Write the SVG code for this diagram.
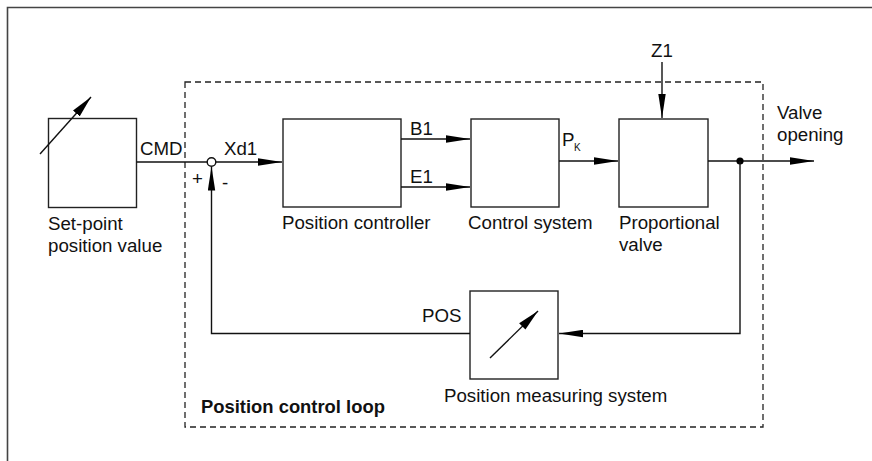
<svg xmlns="http://www.w3.org/2000/svg" width="872" height="461" viewBox="0 0 872 461">
<defs>
<style>
.box{fill:#fff;stroke:#222;stroke-width:1.4}
.ln{fill:none;stroke:#111;stroke-width:1.4}
.t{font-family:"Liberation Sans",Arial,sans-serif;font-size:18.7px;fill:#111}
.b{font-weight:bold;font-size:18.4px}
</style>
<marker id="ah" markerUnits="userSpaceOnUse" markerWidth="24" markerHeight="8" refX="24" refY="4" orient="auto">
<path d="M0,0.3 L24,4 L0,7.7 z" fill="#000"/>
</marker>
<marker id="ahs" markerUnits="userSpaceOnUse" markerWidth="22" markerHeight="10" refX="22" refY="5" orient="auto">
<path d="M0,0.5 L22,5 L0,9.5 z" fill="#000"/>
</marker>
</defs>
<rect width="872" height="461" fill="#fff"/>
<path d="M7.5,461 V7.5 H872" fill="none" stroke="#444" stroke-width="1.6"/>
<rect x="185" y="82" width="578" height="345" fill="none" stroke="#222" stroke-width="1.3" stroke-dasharray="6,4"/>
<text class="t b" x="201" y="413">Position control loop</text>

<g id="setpoint">
<rect class="box" x="48.5" y="118.5" width="88" height="89"/>
<line class="ln" x1="40" y1="154" x2="91" y2="97" marker-end="url(#ahs)"/>
<text class="t" x="48" y="230">Set-point</text>
<text class="t" x="48" y="252">position value</text>
</g>

<g id="sum">
<circle cx="211.5" cy="162" r="4.3" fill="#fff" stroke="#111" stroke-width="1.4"/>
<text class="t" x="192" y="185">+</text>
<text class="t" x="222" y="189">-</text>
</g>

<g id="controller">
<rect class="box" x="283" y="119" width="118" height="88"/>
<text class="t" x="282" y="229">Position controller</text>
</g>

<g id="control-system">
<rect class="box" x="471" y="119" width="88" height="88"/>
<text class="t" x="468" y="229">Control system</text>
</g>

<g id="prop-valve">
<rect class="box" x="619" y="119" width="89" height="88"/>
<text class="t" x="619" y="229">Proportional</text>
<text class="t" x="619" y="251">valve</text>
</g>

<g id="measuring">
<rect class="box" x="470" y="291" width="88" height="88"/>
<line class="ln" x1="490" y1="358" x2="538" y2="311" marker-end="url(#ahs)"/>
<text class="t" x="444" y="402">Position measuring system</text>
</g>

<g id="connectors">
<line class="ln" x1="136.5" y1="162" x2="207.2" y2="162"/>
<line class="ln" x1="215.8" y1="162" x2="282" y2="162" marker-end="url(#ah)"/>
<line class="ln" x1="401" y1="139" x2="470" y2="139" marker-end="url(#ah)"/>
<line class="ln" x1="401" y1="187" x2="470" y2="187" marker-end="url(#ah)"/>
<line class="ln" x1="559" y1="161" x2="618" y2="161" marker-end="url(#ah)"/>
<line class="ln" x1="662" y1="62" x2="662" y2="118" marker-end="url(#ah)"/>
<line class="ln" x1="708" y1="161" x2="814" y2="161" marker-end="url(#ah)"/>
<circle cx="740" cy="161" r="3.6" fill="#000"/>
<polyline class="ln" points="740,161 740,333.5 559,333.5" marker-end="url(#ah)"/>
<polyline class="ln" points="470,333.5 211.5,333.5 211.5,166.5" marker-end="url(#ah)"/>
<text class="t" x="140" y="155">CMD</text>
<text class="t" x="224" y="155">Xd1</text>
<text class="t" x="410" y="135">B1</text>
<text class="t" x="410" y="183">E1</text>
<text class="t" x="562" y="146">P</text>
<text class="t" x="574" y="151" style="font-size:10px">K</text>
<text class="t" x="662" y="57" text-anchor="middle">Z1</text>
<text class="t" x="777" y="119">Valve</text>
<text class="t" x="777" y="141">opening</text>
<text class="t" x="422" y="322">POS</text>
</g>
</svg>
